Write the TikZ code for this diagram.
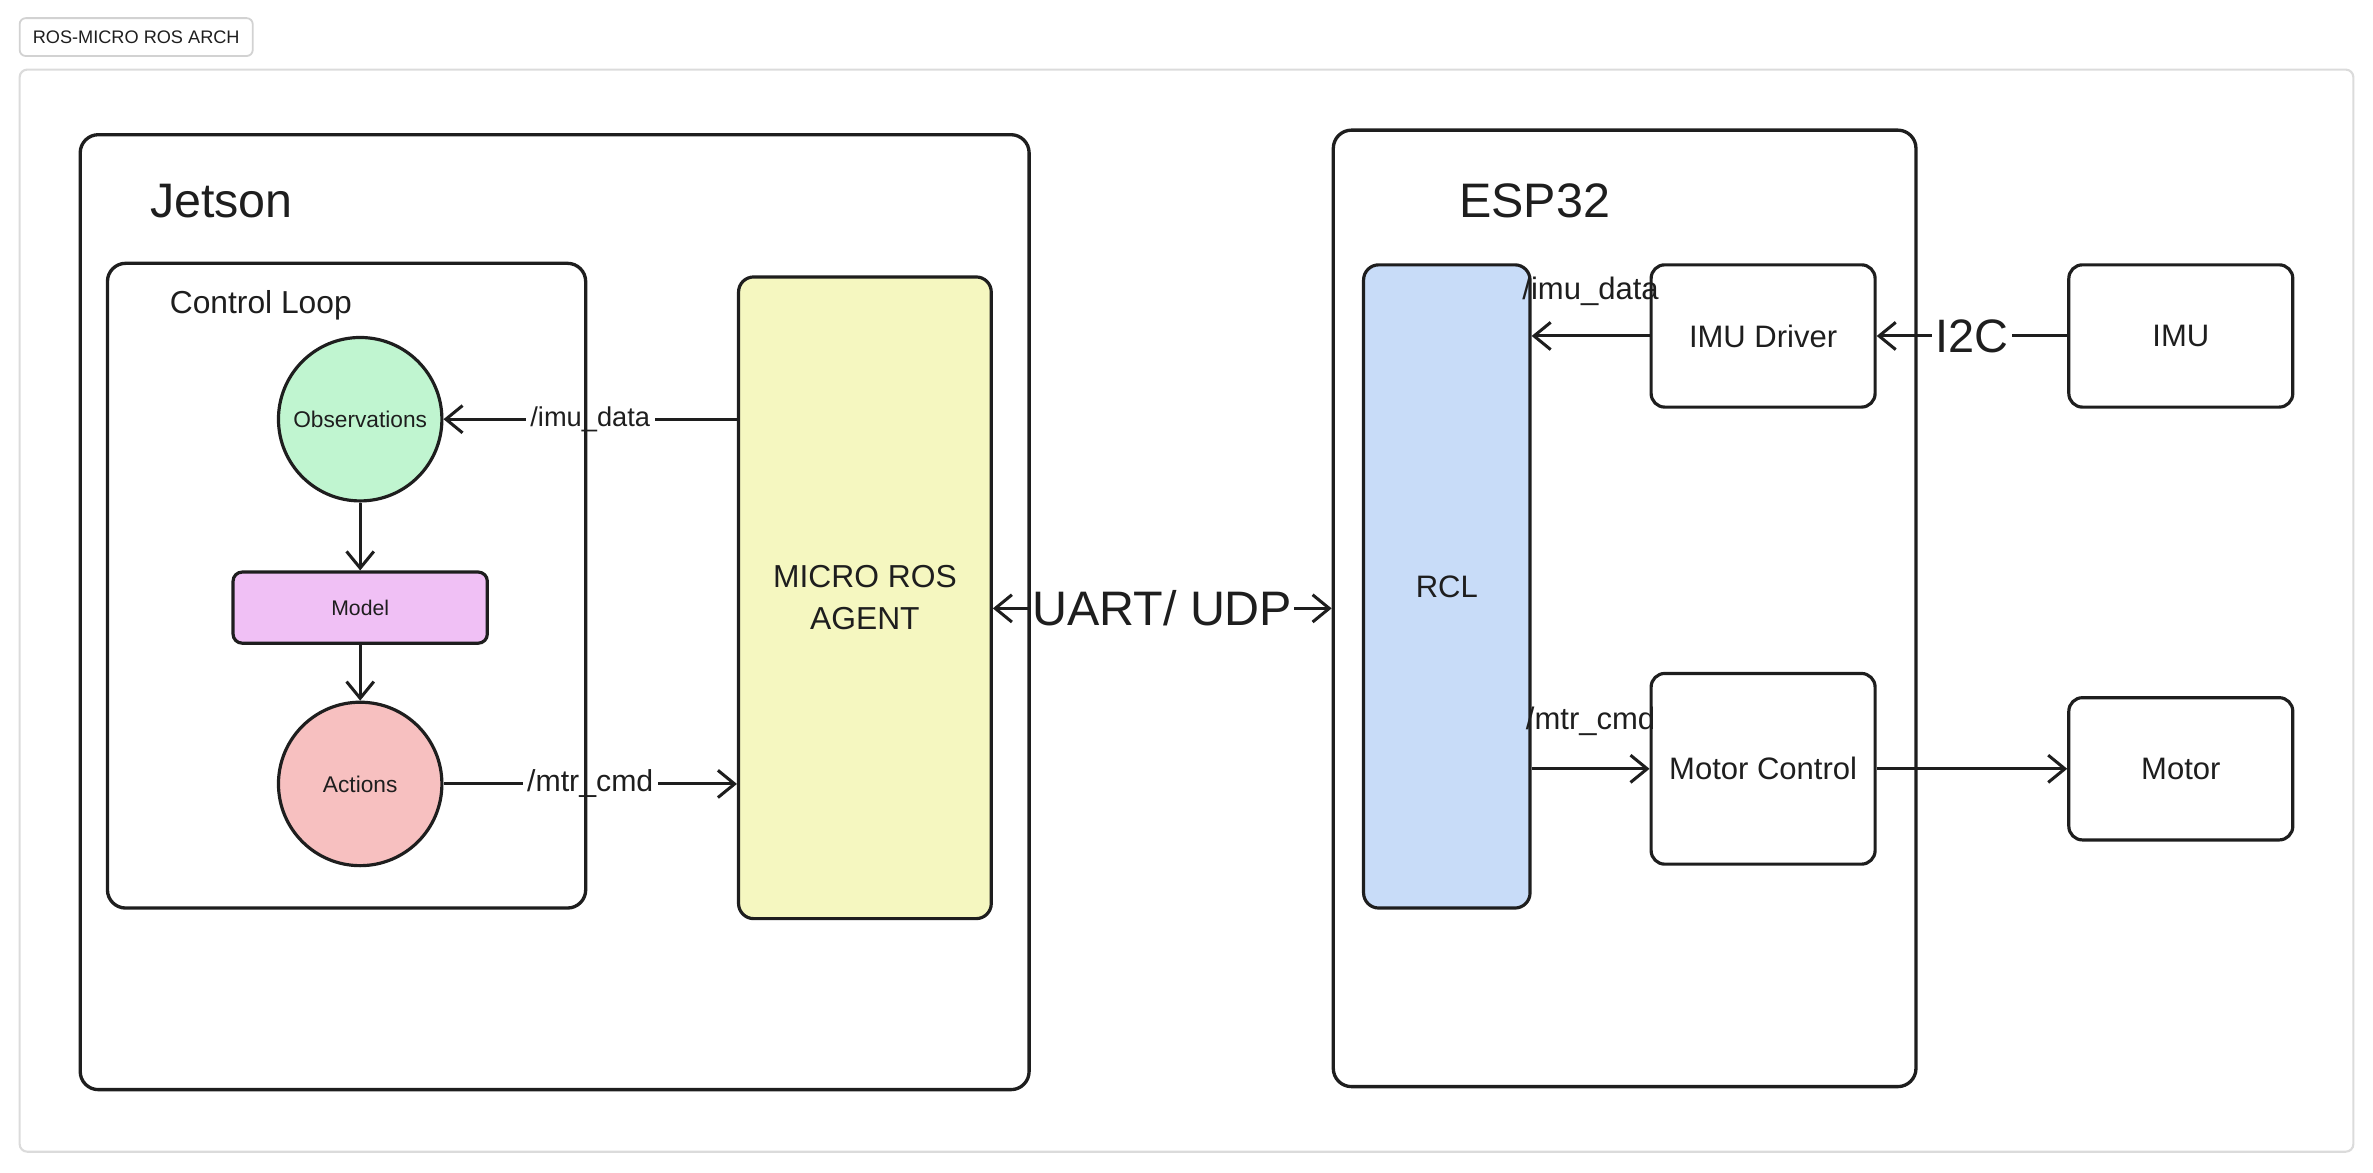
\documentclass[tikz,border=0pt]{standalone}
\usepackage{fontspec}
\setmainfont{Liberation Sans}
\usetikzlibrary{arrows.meta}
\pgfdeclarelayer{front}
\pgfsetlayers{main,front}
\definecolor{ink}{HTML}{1E1E1E}
\definecolor{obsfill}{RGB}{192,245,208}
\definecolor{modelfill}{RGB}{240,192,245}
\definecolor{actfill}{RGB}{247,192,192}
\definecolor{agentfill}{RGB}{245,247,192}
\definecolor{rclfill}{RGB}{200,220,248}
\tikzset{
  frame/.style={draw=ink, line width=2.2pt, rounded corners=12pt, inner sep=0pt},
  box/.style={draw=ink, line width=2.1pt, rounded corners=9pt, inner sep=0pt,
              text=ink, align=center, font=\fontsize{20.5}{28}\selectfont},
  circ/.style={circle, draw=ink, line width=2.1pt, minimum size=108pt, inner sep=0pt,
              text=ink, font=\fontsize{15}{18}\selectfont},
  conn/.style={draw=ink, line width=2pt, -{Straight Barb[length=11pt,width=18pt]}},
  lbl/.style={fill=white, inner sep=3pt, text=ink},
  toplbl/.style={anchor=base, inner sep=0pt, text=ink, font=\fontsize{20.5}{24}\selectfont},
  title/.style={anchor=west, inner sep=0pt, text=ink}
}
\begin{document}
\begin{tikzpicture}[x=1pt,y=-1pt]
\useasboundingbox (0,0) rectangle (1568,775);
% outer canvas and tag
\node[draw=gray!28, line width=1.4pt, rounded corners=5pt, minimum width=1542pt, minimum height=715pt] (canvas) at (784,403.5) {};
\node[draw=gray!35, line width=1.2pt, rounded corners=4pt, minimum width=154pt, minimum height=25pt,
      inner sep=0pt, text=ink, font=\fontsize{12}{14}\selectfont] (tag) at (90,24.5) {ROS-MICRO ROS ARCH};
% containers (on front layer so their borders show over label fills)
\begin{pgfonlayer}{front}
\node[frame, minimum width=627pt, minimum height=631pt] (jetson) at (366.5,404.5) {};
\node[frame, minimum width=316pt, minimum height=426pt] (loop) at (229,387) {};
\node[frame, minimum width=385pt, minimum height=632pt] (esp) at (1073.5,402) {};
\end{pgfonlayer}
\node[title, font=\fontsize{32}{38}\selectfont] (jt) at (99,133) {Jetson};
\node[title, font=\fontsize{32}{38}\selectfont] (et) at (964,133) {ESP32};
\node[title, font=\fontsize{21}{25}\selectfont] (lt) at (112,202) {Control Loop};
% Jetson internals
\node[circ, fill=obsfill] (obs) at (238,277) {Observations};
\node[box, fill=modelfill, rounded corners=6pt, minimum width=168pt, minimum height=47pt,
      font=\fontsize{14}{17}\selectfont] (model) at (238,401.5) {Model};
\node[circ, fill=actfill] (act) at (238,518) {Actions};
\node[box, fill=agentfill, rounded corners=10pt, minimum width=167pt, minimum height=424pt,
      font=\fontsize{21}{28}\selectfont] (agent) at (571.5,395) {MICRO ROS\\AGENT};
% ESP32 internals
\node[box, fill=rclfill, rounded corners=10pt, minimum width=110pt, minimum height=425pt] (rcl) at (956,387.5) {RCL};
\node[box, minimum width=148pt, minimum height=94pt] (imudrv) at (1165,222) {IMU Driver};
\node[box, minimum width=148pt, minimum height=126pt] (mc) at (1165,508) {Motor Control};
\node[box, minimum width=148pt, minimum height=94pt] (imu) at (1441,222) {IMU};
\node[box, minimum width=148pt, minimum height=94pt] (motor) at (1441,508) {Motor};
% connectors
\draw[conn] (obs.south) -- (model.north);
\draw[conn] (model.south) -- (act.north);
\draw[conn] (agent.west |- obs.east) -- node[lbl, font=\fontsize{18}{22}\selectfont] {/imu\_data} (obs.east);
\draw[conn] (act.east) -- node[lbl, font=\fontsize{20}{24}\selectfont] {/mtr\_cmd} (agent.west |- act.east);
\draw[conn, {Straight Barb[length=11pt,width=18pt]}-{Straight Barb[length=11pt,width=18pt]}]
  (agent.east |- esp.west) -- node[lbl, inner sep=1pt, font=\fontsize{32}{38}\selectfont] {UART/ UDP} (esp.west);
\draw[conn] (imudrv.west) -- node[toplbl, yshift=24pt] {/imu\_data} (rcl.east |- imudrv.west);
\draw[conn] (rcl.east |- mc.west) -- node[toplbl, yshift=26pt] {/mtr\_cmd} (mc.west);
\draw[conn] (imu.west) -- node[lbl, inner sep=2pt, font=\fontsize{31}{36}\selectfont] {I2C} (imudrv.east);
\draw[conn] (mc.east) -- (motor.west);
\end{tikzpicture}
\end{document}
